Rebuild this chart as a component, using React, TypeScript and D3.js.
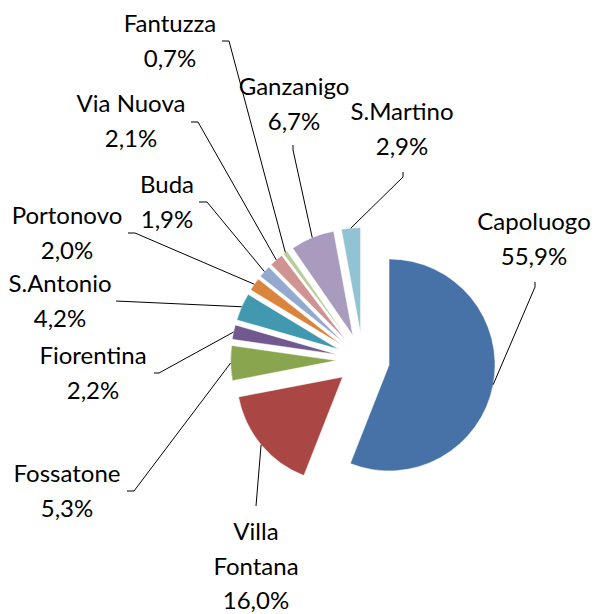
import { useEffect } from "react"
import * as d3 from "d3"

const names = [
  "Capoluogo",
  "Villa Fontana",
  "Fossatone",
  "Fiorentina",
  "S.Antonio",
  "Portonovo",
  "Buda",
  "Via Nuova",
  "Fantuzza",
  "Ganzanigo",
  "S.Martino",
]
const shares = [55.9, 16.0, 5.3, 2.2, 4.2, 2.0, 1.9, 2.1, 0.7, 6.7, 2.9]
const colors = [
  "#4672A8",
  "#AA4644",
  "#89A54E",
  "#71588F",
  "#4198AF",
  "#DB843D",
  "#93A9CF",
  "#D19392",
  "#B9CD96",
  "#A99BBD",
  "#92C3D5",
]

// label placement (layout only): centre x, first baseline y, leader start/stub
const labelLayout = [
  { x: 534, y: 230, wrap: false, stub: [[535, 282], [535, 287]] },
  { x: 256, y: 540, wrap: true, stub: [[256, 506], [256, 506]] },
  { x: 67, y: 482, wrap: false, stub: [[127, 491], [134, 491]] },
  { x: 93, y: 364, wrap: false, stub: [[154, 373], [159, 373]] },
  { x: 60, y: 292, wrap: false, stub: [[116, 301], [116, 301]] },
  { x: 67, y: 224, wrap: false, stub: [[128, 233], [135, 233]] },
  { x: 167, y: 193, wrap: false, stub: [[199, 202], [207, 202]] },
  { x: 131, y: 112, wrap: false, stub: [[191, 122], [198, 122]] },
  { x: 170, y: 32, wrap: false, stub: [[222, 41], [229, 41]] },
  { x: 294, y: 95, wrap: false, stub: [[293, 145], [293, 150]] },
  { x: 402, y: 120, wrap: false, stub: [[403, 172], [403, 177]] },
]

const width = 596
const height = 614
const cx = 363
const cy = 360
const radius = 106
const explode = 26.5
const lineHeight = 34.5

export default function App() {
  useEffect(() => {
    document.body.style.margin = "0"
  }, [])

  const pie = d3
    .pie<number>()
    .sort(null)
    .value((d) => d)
  const arcs = pie(shares)
  const arc = d3.arc<d3.PieArcDatum<number>>().innerRadius(0).outerRadius(radius)
  const fmt = (v: number) => v.toFixed(1).replace(".", ",") + "%"

  return (
    <svg width={width} height={height} style={{ display: "block", fontFamily: "Lato, sans-serif" }}>
      <rect width={width} height={height} fill="#fff" />
      <g transform={`translate(${cx},${cy})`}>
        {arcs.map((a, i) => {
          const mid = (a.startAngle + a.endAngle) / 2
          const dx = Math.sin(mid) * explode
          const dy = -Math.cos(mid) * explode
          return (
            <path
              key={names[i]}
              d={arc(a) || ""}
              transform={`translate(${dx},${dy})`}
              fill={colors[i]}
              stroke="#fff"
              strokeWidth={0.5}
            />
          )
        })}
      </g>
      {arcs.map((a, i) => {
        const mid = (a.startAngle + a.endAngle) / 2
        const r = radius + explode
        const px = cx + Math.sin(mid) * r
        const py = cy - Math.cos(mid) * r
        const L = labelLayout[i]
        const pts = [...L.stub, [px, py]] as [number, number][]
        const lines = L.wrap ? names[i].split(" ") : [names[i]]
        lines.push(fmt(shares[i]))
        return (
          <g key={names[i]}>
            <path d={d3.line()(pts) || ""} fill="none" stroke="#000" strokeWidth={1} />
            <text textAnchor="middle" fontSize={24} fill="#000">
              {lines.map((t, j) => (
                <tspan key={j} x={L.x} y={L.y + j * lineHeight}>
                  {t}
                </tspan>
              ))}
            </text>
          </g>
        )
      })}
    </svg>
  )
}
